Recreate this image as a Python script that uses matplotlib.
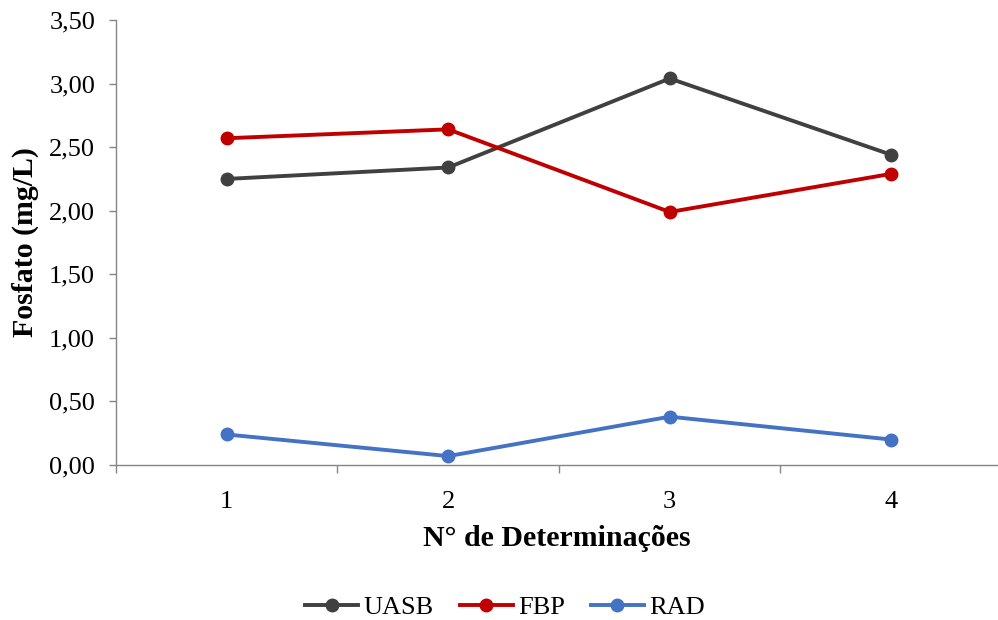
import numpy as np
import matplotlib.pyplot as plt
from matplotlib.ticker import FixedLocator, NullFormatter, FixedFormatter

plt.rcParams['font.family'] = ['Liberation Serif', 'DejaVu Serif']

# data
determinacoes = [1, 2, 3, 4]
uasb = [2.25, 2.34, 3.04, 2.44]
fbp = [2.57, 2.64, 1.99, 2.29]
rad = [0.24, 0.07, 0.38, 0.20]
y_ticks = [0.0, 0.5, 1.0, 1.5, 2.0, 2.5, 3.0, 3.5]
y_labels = ["0,00", "0,50", "1,00", "1,50", "2,00", "2,50", "3,00", "3,50"]

fig = plt.figure(figsize=(9.98, 6.2), dpi=100)
ax = fig.add_axes([116 / 998, 1 - 465 / 620, 1 - 116 / 998, (465 - 20) / 620])

ax.plot(determinacoes, uasb, color='#404040', lw=2.8, marker='o', ms=9, label='UASB')
ax.plot(determinacoes, fbp, color='#C00000', lw=2.8, marker='o', ms=9, label='FBP')
ax.plot(determinacoes, rad, color='#4472C4', lw=2.8, marker='o', ms=9, label='RAD')

ax.set_ylim(0, 3.5)
ax.set_xlim(0.5, 0.5 + 882 / 221.5)
ax.set_yticks(y_ticks)
ax.set_yticklabels(y_labels, fontsize=19)

# category boundaries as tick marks, labels at category centres
ax.xaxis.set_major_locator(FixedLocator([0.5, 1.5, 2.5, 3.5, 4.5]))
ax.xaxis.set_major_formatter(NullFormatter())
ax.xaxis.set_minor_locator(FixedLocator(determinacoes))
ax.xaxis.set_minor_formatter(FixedFormatter([str(d) for d in determinacoes]))
ax.tick_params(axis='x', which='major', length=6, color='#868686', width=1)
ax.tick_params(axis='x', which='minor', length=0, labelsize=19, pad=19)
ax.tick_params(axis='y', length=5, color='#868686', width=1, pad=10)

for s in ['top', 'right']:
    ax.spines[s].set_visible(False)
for s in ['left', 'bottom']:
    ax.spines[s].set_color('#868686')
    ax.spines[s].set_linewidth(1)

ax.set_ylabel('Fosfato (mg/L)', fontsize=21.5, fontweight='bold', labelpad=7)
ax.set_xlabel('N° de Determinações', fontsize=21.5, fontweight='bold', labelpad=8)

fig.legend(loc='center', ncol=3, frameon=False, fontsize=19,
           bbox_to_anchor=(505 / 998, 1 - 607 / 620), handlelength=2.0,
           columnspacing=1.0, handletextpad=0.2, markerscale=1.0)

fig.savefig('out.png', dpi=100)
